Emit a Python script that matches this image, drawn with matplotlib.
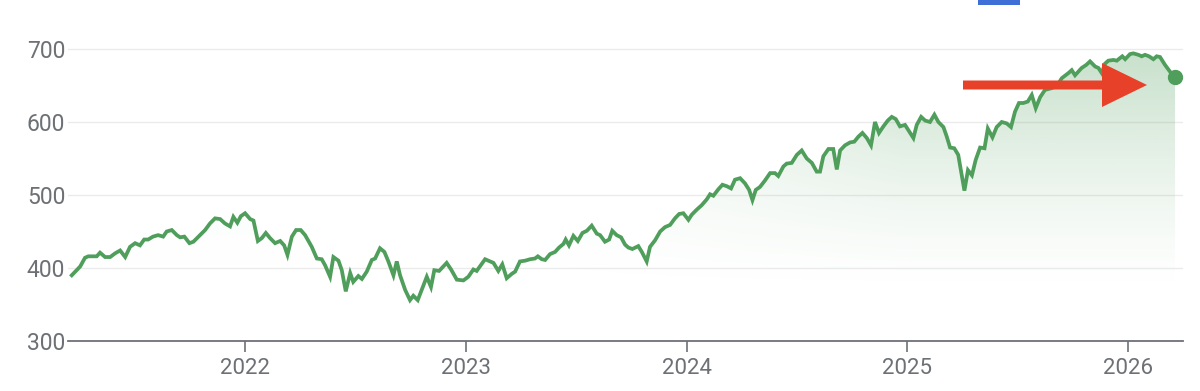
import numpy as np
import matplotlib
matplotlib.use("Agg")
import matplotlib.pyplot as plt
from matplotlib.patches import FancyArrow, Rectangle

# weekly closes (decimal year, price)
years = [
    2021.215, 2021.253, 2021.275, 2021.290, 2021.328, 2021.343, 2021.366, 2021.389, 2021.411, 2021.434,
    2021.457, 2021.479, 2021.502, 2021.524, 2021.543, 2021.561, 2021.583, 2021.606, 2021.629, 2021.645,
    2021.668, 2021.691, 2021.706, 2021.725, 2021.748, 2021.766, 2021.796, 2021.819, 2021.841, 2021.864,
    2021.887, 2021.909, 2021.932, 2021.947, 2021.965, 2021.981, 2022.000, 2022.023, 2022.038, 2022.058,
    2022.076, 2022.094, 2022.113, 2022.136, 2022.159, 2022.177, 2022.192, 2022.212, 2022.231, 2022.252,
    2022.272, 2022.302, 2022.325, 2022.347, 2022.362, 2022.385, 2022.400, 2022.423, 2022.438, 2022.456,
    2022.476, 2022.490, 2022.513, 2022.529, 2022.551, 2022.574, 2022.589, 2022.611, 2022.631, 2022.649,
    2022.672, 2022.687, 2022.702, 2022.725, 2022.747, 2022.762, 2022.782, 2022.800, 2022.823, 2022.842,
    2022.857, 2022.879, 2022.913, 2022.933, 2022.959, 2022.989, 2023.011, 2023.034, 2023.049, 2023.087,
    2023.110, 2023.125, 2023.147, 2023.165, 2023.185, 2023.208, 2023.223, 2023.245, 2023.268, 2023.291,
    2023.313, 2023.326, 2023.344, 2023.359, 2023.381, 2023.404, 2023.422, 2023.442, 2023.452, 2023.467,
    2023.487, 2023.507, 2023.528, 2023.548, 2023.570, 2023.593, 2023.608, 2023.630, 2023.649, 2023.663,
    2023.683, 2023.703, 2023.721, 2023.736, 2023.754, 2023.781, 2023.797, 2023.819, 2023.834, 2023.857,
    2023.880, 2023.902, 2023.925, 2023.947, 2023.966, 2023.985, 2024.008, 2024.023, 2024.046, 2024.068,
    2024.091, 2024.106, 2024.121, 2024.144, 2024.162, 2024.182, 2024.201, 2024.219, 2024.242, 2024.264,
    2024.283, 2024.298, 2024.313, 2024.332, 2024.355, 2024.378, 2024.400, 2024.415, 2024.438, 2024.453,
    2024.476, 2024.499, 2024.521, 2024.544, 2024.567, 2024.589, 2024.604, 2024.619, 2024.642, 2024.664,
    2024.680, 2024.695, 2024.717, 2024.740, 2024.759, 2024.778, 2024.796, 2024.816, 2024.835, 2024.853,
    2024.871, 2024.891, 2024.911, 2024.929, 2024.947, 2024.966, 2024.989, 2025.004, 2025.027, 2025.042,
    2025.062, 2025.080, 2025.102, 2025.122, 2025.140, 2025.163, 2025.178, 2025.193, 2025.212, 2025.230,
    2025.246, 2025.258, 2025.274, 2025.292, 2025.309, 2025.329, 2025.349, 2025.364, 2025.385, 2025.404,
    2025.427, 2025.450, 2025.469, 2025.487, 2025.505, 2025.525, 2025.545, 2025.563, 2025.581, 2025.601,
    2025.623, 2025.649, 2025.676, 2025.699, 2025.729, 2025.744, 2025.759, 2025.789, 2025.809, 2025.827,
    2025.850, 2025.865, 2025.880, 2025.895, 2025.910, 2025.933, 2025.948, 2025.973, 2025.986, 2026.008,
    2026.023, 2026.046, 2026.061, 2026.076, 2026.094, 2026.114, 2026.129, 2026.144, 2026.167, 2026.189,
    2026.212,
]
prices = [
    390, 402, 414, 416, 416, 421, 415, 415, 420, 424,
    415, 429, 434, 431, 439, 439, 443, 445, 443, 450,
    452, 445, 442, 443, 434, 436, 445, 452, 461, 468,
    467, 461, 457, 470, 462, 471, 475, 467, 465, 437,
    441, 448, 441, 434, 437, 431, 418, 443, 452, 452,
    445, 429, 413, 412, 404, 388, 415, 410, 397, 368,
    393, 381, 389, 385, 395, 411, 413, 427, 422, 409,
    390, 409, 390, 370, 356, 362, 356, 370, 388, 374,
    397, 396, 407, 398, 384, 383, 388, 398, 396, 412,
    409, 407, 396, 405, 386, 392, 395, 409, 410, 412,
    413, 416, 412, 411, 419, 422, 428, 433, 439, 431,
    444, 437, 448, 451, 458, 447, 445, 436, 439, 451,
    445, 442, 432, 428, 426, 430, 422, 409, 429, 438,
    450, 456, 459, 468, 474, 475, 466, 473, 480, 486,
    494, 501, 499, 508, 514, 512, 509, 521, 523, 516,
    507, 493, 507, 511, 520, 530, 530, 526, 539, 543,
    544, 555, 561, 550, 544, 532, 532, 553, 563, 563,
    535, 561, 568, 572, 573, 580, 585, 578, 568, 600,
    585, 594, 602, 607, 604, 594, 596, 589, 578, 596,
    607, 602, 600, 610, 600, 593, 580, 565, 564, 555,
    527, 506, 534, 527, 548, 565, 564, 591, 579, 593,
    600, 598, 593, 614, 626, 626, 628, 637, 619, 634,
    644, 646, 649, 660, 667, 671, 664, 674, 678, 683,
    676, 674, 667, 680, 684, 685, 684, 690, 686, 693,
    694, 692, 690, 692, 690, 686, 690, 689, 678, 669,
    661,
]
y_ticks = [300, 400, 500, 600, 700]
x_ticks = [2022, 2023, 2024, 2025, 2026]

line_color = '#4f9e5b'
text_color = '#6d7175'

plt.rcParams['font.family'] = ['Roboto', 'DejaVu Sans']

fig = plt.figure(figsize=(12, 3.91), dpi=100)
ax = fig.add_axes([68 / 1200, 50 / 391, (1183 - 68) / 1200, 311 / 391])
ax.set_xlim(2021.198, 2026.248)
ax.set_ylim(300, 726)

# gradient fill under the line, clipped to the area polygon
poly = ax.fill_between(years, prices, 300, facecolor='none', edgecolor='none')
gx = np.linspace(2021.198, 2026.248, 400)
gy = np.linspace(300, 726, 200)
GX, GY = np.meshgrid(gx, gy)
alpha_v = np.clip((GY - 370) / (700 - 370), 0, 1) ** 1.3
alpha_h = np.clip((GX - 2023.4) / 1.6, 0, 1)
rgba = np.zeros((200, 400, 4))
rgba[..., 0] = 0x4f / 255
rgba[..., 1] = 0x9e / 255
rgba[..., 2] = 0x5b / 255
rgba[..., 3] = 0.32 * alpha_v * (0.25 + 0.75 * alpha_h)
img = ax.imshow(rgba, extent=[gx[0], gx[-1], gy[0], gy[-1]], origin='lower',
                aspect='auto', zorder=1)
img.set_clip_path(poly.get_paths()[0], transform=ax.transData)

ax.plot(years, prices, color=line_color, lw=2.7, zorder=3, solid_joinstyle='miter')
ax.plot(years[-1], prices[-1], 'o', color=line_color, ms=10, zorder=4)

for v in y_ticks[1:]:
    ax.axhline(v, color='#ebebeb', lw=1, zorder=0)

ax.set_yticks(y_ticks)
ax.set_xticks(x_ticks)
ax.set_xticklabels([str(x) for x in x_ticks])
ax.tick_params(axis='y', length=0, pad=2, labelsize=16.5, labelcolor=text_color)
ax.tick_params(axis='x', length=8, width=1.2, color=text_color, pad=4,
               labelsize=16, labelcolor=text_color)
for s in ['top', 'right', 'left']:
    ax.spines[s].set_visible(False)
ax.spines['bottom'].set_color(text_color)
ax.spines['bottom'].set_linewidth(1.3)

# red arrow pointing at the latest value
arrow = FancyArrow(963 / 1200, 306 / 391, (1147 - 963) / 1200, 0,
                   width=9 / 391, head_width=44 / 391, head_length=45 / 1200,
                   length_includes_head=True, color='#e8412a', lw=0,
                   transform=fig.transFigure, zorder=10)
fig.add_artist(arrow)

# small blue tab cut off at the top
fig.add_artist(Rectangle((978 / 1200, 386 / 391), 42 / 1200, 5 / 391,
                         transform=fig.transFigure, color='#3d6fd6', lw=0))

fig.savefig('out.png', dpi=100, facecolor='white')
